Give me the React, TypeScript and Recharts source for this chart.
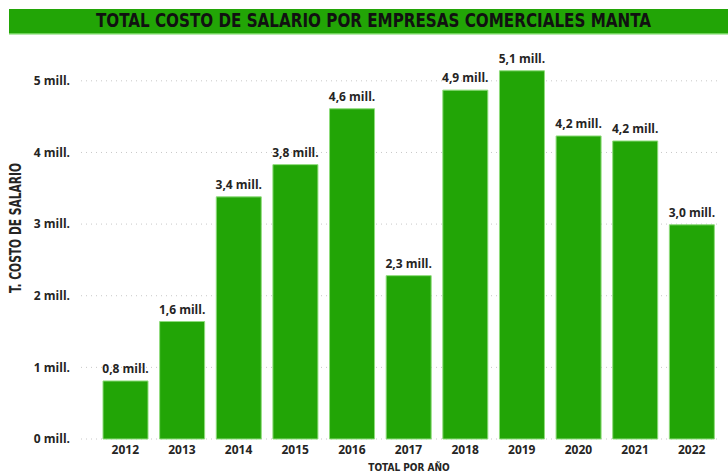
import React from "react";
import { BarChart, Bar, XAxis, YAxis, CartesianGrid, LabelList } from "recharts";

const years = ["2012", "2013", "2014", "2015", "2016", "2017", "2018", "2019", "2020", "2021", "2022"];
const costs = [0.81, 1.64, 3.38, 3.83, 4.61, 2.28, 4.87, 5.14, 4.23, 4.16, 2.99];
const yTicks = [0, 1, 2, 3, 4, 5];

const data = years.map((y, i) => ({ year: y, value: costs[i] }));

const fmt = (v: number) => `${v.toFixed(1).replace(".", ",")} mill.`;
const FONT = "'Open Sans', 'Segoe UI', sans-serif";
const NARROW = "'Liberation Sans Narrow', 'DejaVu Sans Condensed', sans-serif";

const renderLabel = (props: any) => {
  const { x, y, width, value } = props;
  return (
    <text
      x={Number(x) + Number(width) / 2}
      y={Number(y) - 8}
      textAnchor="middle"
      fontFamily={FONT}
      fontWeight={700}
      fontSize={12}
      fill="#252423"
    >
      {fmt(Number(value))}
    </text>
  );
};

export default function App() {
  return (
    <div style={{ position: "absolute", left: 0, top: 0, width: 728, height: 475, background: "#fff", overflow: "hidden" }}>
      <svg width={728} height={40} style={{ position: "absolute", left: 0, top: 0 }}>
        <rect x={9} y={9} width={719} height={24} fill="#22a506" />
        <rect x={9} y={33} width={719} height={1.5} fill="#6fd35a" />
        <text
          x={96}
          y={27}
          textLength={555}
          lengthAdjust="spacingAndGlyphs"
          fontFamily={NARROW}
          fontWeight="bold"
          fontSize={19}
          fill="#111"
        >
          TOTAL COSTO DE SALARIO POR EMPRESAS COMERCIALES MANTA
        </text>
      </svg>
      <div style={{ position: "absolute", left: 0, top: 0 }}>
        <BarChart
          width={728}
          height={475}
          data={data}
          margin={{ top: 45, right: 8, bottom: 6, left: 0 }}
          barSize={45}
        >
          <CartesianGrid
            horizontal={true}
            vertical={false}
            syncWithTicks
            stroke="#c8c8c8"
            strokeDasharray="1 4"
          />
          <XAxis
            dataKey="year"
            height={30}
            axisLine={false}
            tickLine={false}
            padding={{ left: 16, right: 0 }}
            tickSize={0}
            tickMargin={6}
            tick={{ fontFamily: FONT, fontWeight: 700, fontSize: 12, fill: "#252423" }}
            interval={0}
          />
          <YAxis
            width={81}
            domain={[0, 5.5]}
            ticks={yTicks}
            axisLine={false}
            tickLine={false}
            tickSize={0}
            tickMargin={11}
            tickFormatter={(v: number) => `${v} mill.`}
            tick={{ fontFamily: FONT, fontWeight: 700, fontSize: 12, fill: "#252423" }}
          />
          <Bar dataKey="value" fill="#22a506" stroke="#8fdc7c" strokeWidth={1} isAnimationActive={false}>
            <LabelList dataKey="value" content={renderLabel} />
          </Bar>
        </BarChart>
      </div>
      <svg width={728} height={475} style={{ position: "absolute", left: 0, top: 0, pointerEvents: "none" }}>
        <text
          x={0}
          y={0}
          transform="translate(21,228) rotate(-90)"
          textAnchor="middle"
          textLength={130}
          lengthAdjust="spacingAndGlyphs"
          fontFamily={NARROW}
          fontWeight="bold"
          fontSize={16}
          fill="#252423"
        >
          T. COSTO DE SALARIO
        </text>
        <text
          x={409}
          y={471}
          textAnchor="middle"
          fontFamily={NARROW}
          fontWeight="bold"
          fontSize={10}
          fill="#252423"
        >
          TOTAL POR AÑO
        </text>
      </svg>
    </div>
  );
}
